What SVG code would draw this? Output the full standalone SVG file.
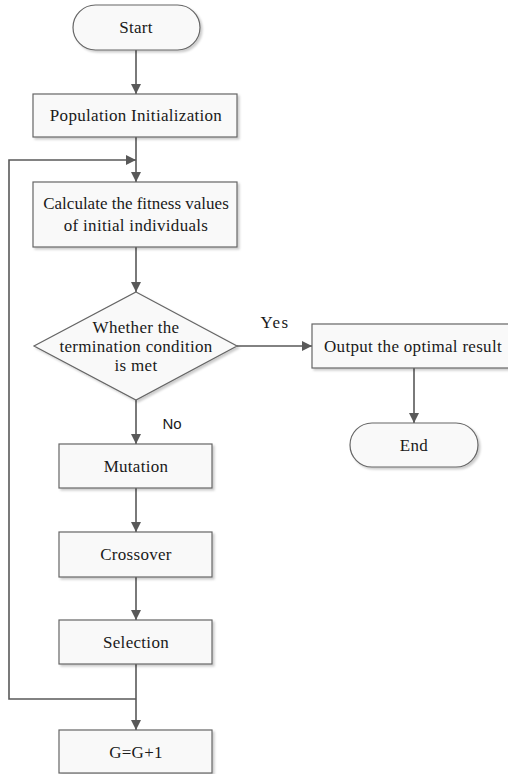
<svg xmlns="http://www.w3.org/2000/svg" width="508" height="774" viewBox="0 0 508 774">
<defs>
<marker id="ah" viewBox="0 0 10 10" refX="10" refY="5" markerWidth="10" markerHeight="10" markerUnits="userSpaceOnUse" orient="auto">
<path d="M0,0 L10,5 L0,10 z" fill="#595959"/>
</marker>
<filter id="sh" x="-10%" y="-10%" width="130%" height="130%">
<feDropShadow dx="2" dy="2" stdDeviation="1" flood-color="#000" flood-opacity="0.2"/>
</filter>
</defs>
<style>
.n{fill:#f9f9f9;stroke:#666;stroke-width:1.2;filter:url(#sh)}
.t{font-family:"Liberation Serif","Times New Roman",serif;font-size:17px;fill:#1a1a1a;text-anchor:middle;letter-spacing:0.3px}
.s{font-family:"Liberation Sans",Arial,sans-serif;font-size:15px;fill:#1a1a1a;text-anchor:middle}
.c{fill:none;stroke:#595959;stroke-width:1.6}
</style>
<g id="connectors">
<line class="c" x1="136" y1="50" x2="136" y2="94" marker-end="url(#ah)"/>
<line class="c" x1="136" y1="137" x2="136" y2="182" marker-end="url(#ah)"/>
<line class="c" x1="136" y1="247" x2="136" y2="292" marker-end="url(#ah)"/>
<line class="c" x1="237" y1="346" x2="312" y2="346" marker-end="url(#ah)"/>
<line class="c" x1="414" y1="368" x2="414" y2="423" marker-end="url(#ah)"/>
<line class="c" x1="136" y1="400" x2="136" y2="444" marker-end="url(#ah)"/>
<line class="c" x1="136" y1="488" x2="136" y2="532" marker-end="url(#ah)"/>
<line class="c" x1="136" y1="577" x2="136" y2="620" marker-end="url(#ah)"/>
<line class="c" x1="136" y1="664" x2="136" y2="730" marker-end="url(#ah)"/>
<polyline class="c" points="136,699 9,699 9,160 136,160" marker-end="url(#ah)"/>
<text class="t" x="275" y="328" style="letter-spacing:1.5px">Yes</text>
<text class="s" x="172" y="429">No</text>
</g>
<g id="start">
<rect class="n" x="73" y="5" width="127" height="45" rx="22.5"/>
<text class="t" x="136" y="33">Start</text>
</g>
<g id="init">
<rect class="n" x="33" y="94" width="204" height="43"/>
<text class="t" x="136" y="121">Population Initialization</text>
</g>
<g id="fitness">
<rect class="n" x="33" y="182" width="204" height="65"/>
<text class="t" x="136" y="209" style="letter-spacing:0">Calculate the fitness values</text>
<text class="t" x="136" y="231">of initial individuals</text>
</g>
<g id="decision">
<polygon class="n" points="136,292 237,346 136,400 34,346"/>
<text class="t" x="136" y="333">Whether the</text>
<text class="t" x="136" y="352">termination condition</text>
<text class="t" x="136" y="371">is met</text>
</g>
<g id="output">
<rect class="n" x="312" y="324" width="198" height="44"/>
<text class="t" x="413" y="352">Output the optimal result</text>
</g>
<g id="end">
<rect class="n" x="350" y="423" width="128" height="44" rx="22"/>
<text class="t" x="414" y="451">End</text>
</g>
<g id="mutation">
<rect class="n" x="59" y="444" width="153" height="44"/>
<text class="t" x="136" y="472">Mutation</text>
</g>
<g id="crossover">
<rect class="n" x="59" y="532" width="153" height="45"/>
<text class="t" x="136" y="560">Crossover</text>
</g>
<g id="selection">
<rect class="n" x="59" y="620" width="153" height="44"/>
<text class="t" x="136" y="648">Selection</text>
</g>
<g id="increment">
<rect class="n" x="59" y="730" width="153" height="43"/>
<text class="t" x="136" y="758">G=G+1</text>
</g>
</svg>
